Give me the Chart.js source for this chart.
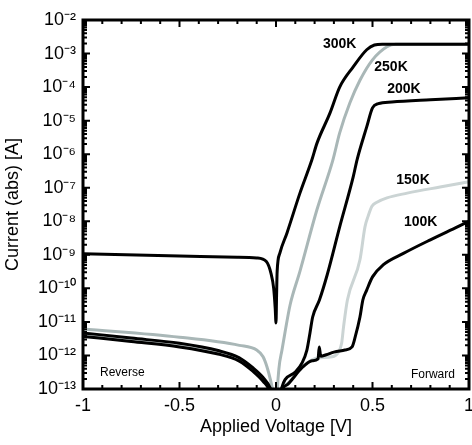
<!DOCTYPE html>
<html>
<head>
<meta charset="utf-8">
<script src="https://cdn.jsdelivr.net/npm/chart.js@4.4.0/dist/chart.umd.min.js"></script>
<style>
    html, body { margin: 0; padding: 0; background: #fff; }
</style>
</head>
<body>
<canvas id="iv-chart" width="472" height="445"></canvas>
<script>
"use strict";

// Axis ticks
var xTicks = [-1, -0.5, 0, 0.5, 1];
var yDecades = [-13, -12, -11, -10, -9, -8, -7, -6, -5, -4, -3, -2];

// 300K
var v300 = [-1, -0.5, -0.2, -0.1, -0.05, -0.026, -0.012, -0.004, 0, 0.003, 0.006, 0.02, 0.057, 0.124, 0.186, 0.212, 0.28, 0.33, 0.40, 0.47, 0.51, 0.55, 1];
var i300 = [1.07e-9, 9.3e-10, 8.5e-10, 8.1e-10, 6.3e-10, 2.8e-10, 1.0e-10, 2.5e-11, 9.3e-12, 6.3e-11, 3.2e-10, 1.12e-9, 4.5e-9, 6.9e-8, 6.8e-7, 2.1e-6, 1.7e-5, 1.0e-4, 4.0e-4, 1.3e-3, 1.8e-3, 1.9e-3, 1.9e-3];

// 250K
var v250 = [-1, -0.5, -0.19, -0.1, -0.067, -0.047, -0.03, -0.015, -0.005, 0, 0.005, 0.015, 0.031, 0.047, 0.073, 0.124, 0.212, 0.295, 0.33, 0.383, 0.435, 0.50, 0.575, 0.62, 1];
var i250 = [6.2e-12, 3.5e-12, 2.0e-12, 1.45e-12, 9.1e-13, 4.6e-13, 2.0e-13, 7.9e-14, 2.5e-14, 3.2e-15, 5.0e-14, 4.0e-13, 1.45e-12, 5.0e-12, 3.2e-11, 3.2e-10, 2.2e-8, 6.8e-7, 4.3e-6, 3.4e-5, 1.6e-4, 6.5e-4, 1.6e-3, 1.9e-3, 1.9e-3];

// 200K
var v200 = [-1, -0.75, -0.5, -0.3, -0.19, -0.12, -0.067, -0.031, -0.01, 0, 0.01, 0.03, 0.047, 0.1, 0.135, 0.16, 0.176, 0.19, 0.225, 0.265, 0.33, 0.40, 0.42, 0.47, 0.50, 0.53, 0.6, 0.8, 1];
var i200 = [4.7e-12, 3.3e-12, 2.3e-12, 1.4e-12, 8.5e-13, 4.3e-13, 2.2e-13, 1.1e-13, 4.0e-14, 3.2e-15, 3.2e-14, 1.1e-13, 1.9e-13, 3.2e-13, 6.0e-13, 1.45e-12, 4.7e-12, 1.4e-11, 4.5e-11, 2.5e-10, 6.8e-9, 2.1e-7, 6.8e-7, 6.5e-6, 2.4e-5, 3.2e-5, 3.6e-5, 4.2e-5, 4.8e-5];

// 150K
var v150 = [-1, -0.75, -0.5, -0.3, -0.19, -0.12, -0.067, -0.031, -0.01, 0, 0.01, 0.03, 0.062, 0.135, 0.187, 0.218, 0.29, 0.32, 0.34, 0.35, 0.37, 0.435, 0.461, 0.477, 0.497, 0.523, 0.575, 0.68, 0.85, 1];
var i150 = [4.2e-12, 3.0e-12, 2.0e-12, 1.26e-12, 7.6e-13, 3.8e-13, 1.9e-13, 9.5e-14, 3.2e-14, 3.2e-15, 2.5e-14, 1.0e-13, 1.5e-13, 4.6e-13, 7.4e-13, 8.5e-13, 9.1e-13, 1.17e-12, 2.3e-12, 7.1e-12, 4.5e-11, 7.1e-10, 6.8e-9, 1.4e-8, 2.8e-8, 3.7e-8, 5.0e-8, 6.9e-8, 1.05e-7, 1.5e-7];

// 100K
var v100 = [-1, -0.75, -0.5, -0.3, -0.19, -0.12, -0.067, -0.031, -0.01, 0, 0.01, 0.03, 0.062, 0.135, 0.187, 0.218, 0.224, 0.232, 0.26, 0.30, 0.357, 0.394, 0.41, 0.435, 0.45, 0.47, 0.50, 0.555, 0.66, 0.8, 0.94, 1];
var i100 = [3.7e-12, 2.6e-12, 1.8e-12, 1.1e-12, 6.8e-13, 3.4e-13, 1.7e-13, 8.3e-14, 2.5e-14, 3.2e-15, 2.0e-14, 8.9e-14, 1.4e-13, 4.3e-13, 6.9e-13, 7.9e-13, 1.8e-12, 9.5e-13, 1.05e-12, 1.26e-12, 1.45e-12, 1.8e-12, 3.5e-12, 1.4e-11, 4.5e-11, 8.9e-11, 2.2e-10, 5.0e-10, 1.1e-9, 2.8e-9, 6.8e-9, 1.0e-8];

// Curve labels (placed in data units)
var tagText = ["300K", "250K", "200K", "150K", "100K"];
var tagV = [0.33, 0.596, 0.663, 0.71, 0.75];
var tagI = [1.9e-3, 4.0e-4, 8.7e-5, 1.7e-7, 9.5e-9];

var sideText = ["Reverse", "Forward"];
var sideV = [-0.912, 0.927];
var sideI = [3.0e-13, 2.6e-13];

var BLACK = "#000000";
var GRAY_250 = "#a9b7b7";
var GRAY_150 = "#cbd4d4";
var FONT = "'Liberation Sans', Arial, sans-serif";

function toPoints(vs, is) {
    var pts = [];
    for (var k = 0; k < vs.length; k++) {
        pts.push({x: vs[k], y: is[k]});
    }
    return pts;
}

function curve(label, vs, is, color, order) {
    return {
        label: label,
        data: toPoints(vs, is),
        borderColor: color,
        borderWidth: 3,
        pointRadius: 0,
        fill: false,
        cubicInterpolationMode: "monotone",
        borderJoinStyle: "round",
        borderCapStyle: "round",
        order: order
    };
}

var SUP = {"-": "\u207B", "0": "\u2070", "1": "\u00B9", "2": "\u00B2", "3": "\u00B3",
           "4": "\u2074", "5": "\u2075", "6": "\u2076", "7": "\u2077", "8": "\u2078", "9": "\u2079"};

function powLabel(value) {
    var e = String(Math.round(Math.log10(value)));
    var s = "";
    for (var k = 0; k < e.length; k++) s += SUP[e[k]];
    return "10" + s;
}

// Frame and inward tick marks on all four sides
var frameTicks = {
    id: "frameTicks",
    afterDatasetsDraw: function (chart) {
        var ctx = chart.ctx, a = chart.chartArea;
        var xs = chart.scales.x, ys = chart.scales.y;
        ctx.save();
        ctx.strokeStyle = BLACK;
        ctx.lineWidth = 2;
        ctx.beginPath();
        for (var k = -10; k <= 10; k++) {
            var px = xs.getPixelForValue(k / 10);
            var len = (k % 5 === 0) ? 7 : 4;
            ctx.moveTo(px, a.bottom); ctx.lineTo(px, a.bottom - len);
            ctx.moveTo(px, a.top); ctx.lineTo(px, a.top + len);
        }
        for (var d = 0; d < yDecades.length; d++) {
            var e = yDecades[d];
            var py = ys.getPixelForValue(Math.pow(10, e));
            ctx.moveTo(a.left, py); ctx.lineTo(a.left + 7, py);
            ctx.moveTo(a.right, py); ctx.lineTo(a.right - 7, py);
            if (e < -2) {
                for (var m = 2; m <= 9; m++) {
                    var pm = ys.getPixelForValue(m * Math.pow(10, e));
                    ctx.moveTo(a.left, pm); ctx.lineTo(a.left + 4, pm);
                    ctx.moveTo(a.right, pm); ctx.lineTo(a.right - 4, pm);
                }
            }
        }
        ctx.stroke();
        ctx.lineWidth = 3;
        ctx.strokeRect(a.left, a.top, a.right - a.left, a.bottom - a.top);

        // text labels
        ctx.fillStyle = BLACK;
        ctx.textBaseline = "middle";
        ctx.textAlign = "center";
        ctx.font = "bold 14px " + FONT;
        for (var t = 0; t < tagText.length; t++) {
            ctx.fillText(tagText[t], xs.getPixelForValue(tagV[t]), ys.getPixelForValue(tagI[t]));
        }
        ctx.font = "12px " + FONT;
        ctx.textAlign = "left";
        ctx.fillText(sideText[0], xs.getPixelForValue(sideV[0]), ys.getPixelForValue(sideI[0]));
        ctx.textAlign = "right";
        ctx.fillText(sideText[1], xs.getPixelForValue(sideV[1]), ys.getPixelForValue(sideI[1]));
        ctx.restore();
    }
};

var ctx1 = document.getElementById("iv-chart").getContext("2d");
var myChart1 = new Chart(ctx1, {
    type: "line",
    data: {
        datasets: [
            curve("300K", v300, i300, BLACK, 1),
            curve("200K", v200, i200, BLACK, 2),
            curve("100K", v100, i100, BLACK, 3),
            curve("150K", v150, i150, GRAY_150, 4),
            curve("250K", v250, i250, GRAY_250, 5)
        ]
    },
    options: {
        responsive: false,
        animation: false,
        events: [],
        layout: {padding: {top: 20, right: 3, left: 0, bottom: 0}},
        plugins: {legend: {display: false}, tooltip: {enabled: false}},
        scales: {
            x: {
                type: "linear",
                min: -1,
                max: 1,
                afterBuildTicks: function (scale) {
                    scale.ticks = xTicks.map(function (v) { return {value: v}; });
                },
                afterFit: function (scale) {
                    scale.height = 56;
                    scale.paddingLeft = 0;
                    scale.paddingRight = 0;
                },
                grid: {display: false, drawTicks: false},
                border: {display: false},
                ticks: {
                    padding: 6,
                    color: BLACK,
                    maxRotation: 0,
                    font: {family: FONT, size: 18},
                    callback: function (v) { return String(v); }
                },
                title: {
                    display: true,
                    text: "Applied Voltage [V]",
                    color: BLACK,
                    font: {family: FONT, size: 18},
                    padding: {top: 0, bottom: 7}
                }
            },
            y: {
                type: "logarithmic",
                min: 1e-13,
                max: 1e-2,
                afterBuildTicks: function (scale) {
                    scale.ticks = yDecades.map(function (e) { return {value: Math.pow(10, e)}; });
                },
                afterFit: function (scale) {
                    scale.width = 83;
                    scale.paddingTop = 0;
                    scale.paddingBottom = 0;
                },
                grid: {display: false, drawTicks: false},
                border: {display: false},
                ticks: {
                    padding: 7,
                    color: BLACK,
                    autoSkip: false,
                    font: {family: FONT, size: 18},
                    callback: function (v) { return powLabel(v); }
                },
                title: {
                    display: true,
                    text: "Current (abs) [A]",
                    color: BLACK,
                    font: {family: FONT, size: 18},
                    padding: {top: 2, bottom: 0}
                }
            }
        }
    },
    plugins: [frameTicks]
});
</script>
</body>
</html>
